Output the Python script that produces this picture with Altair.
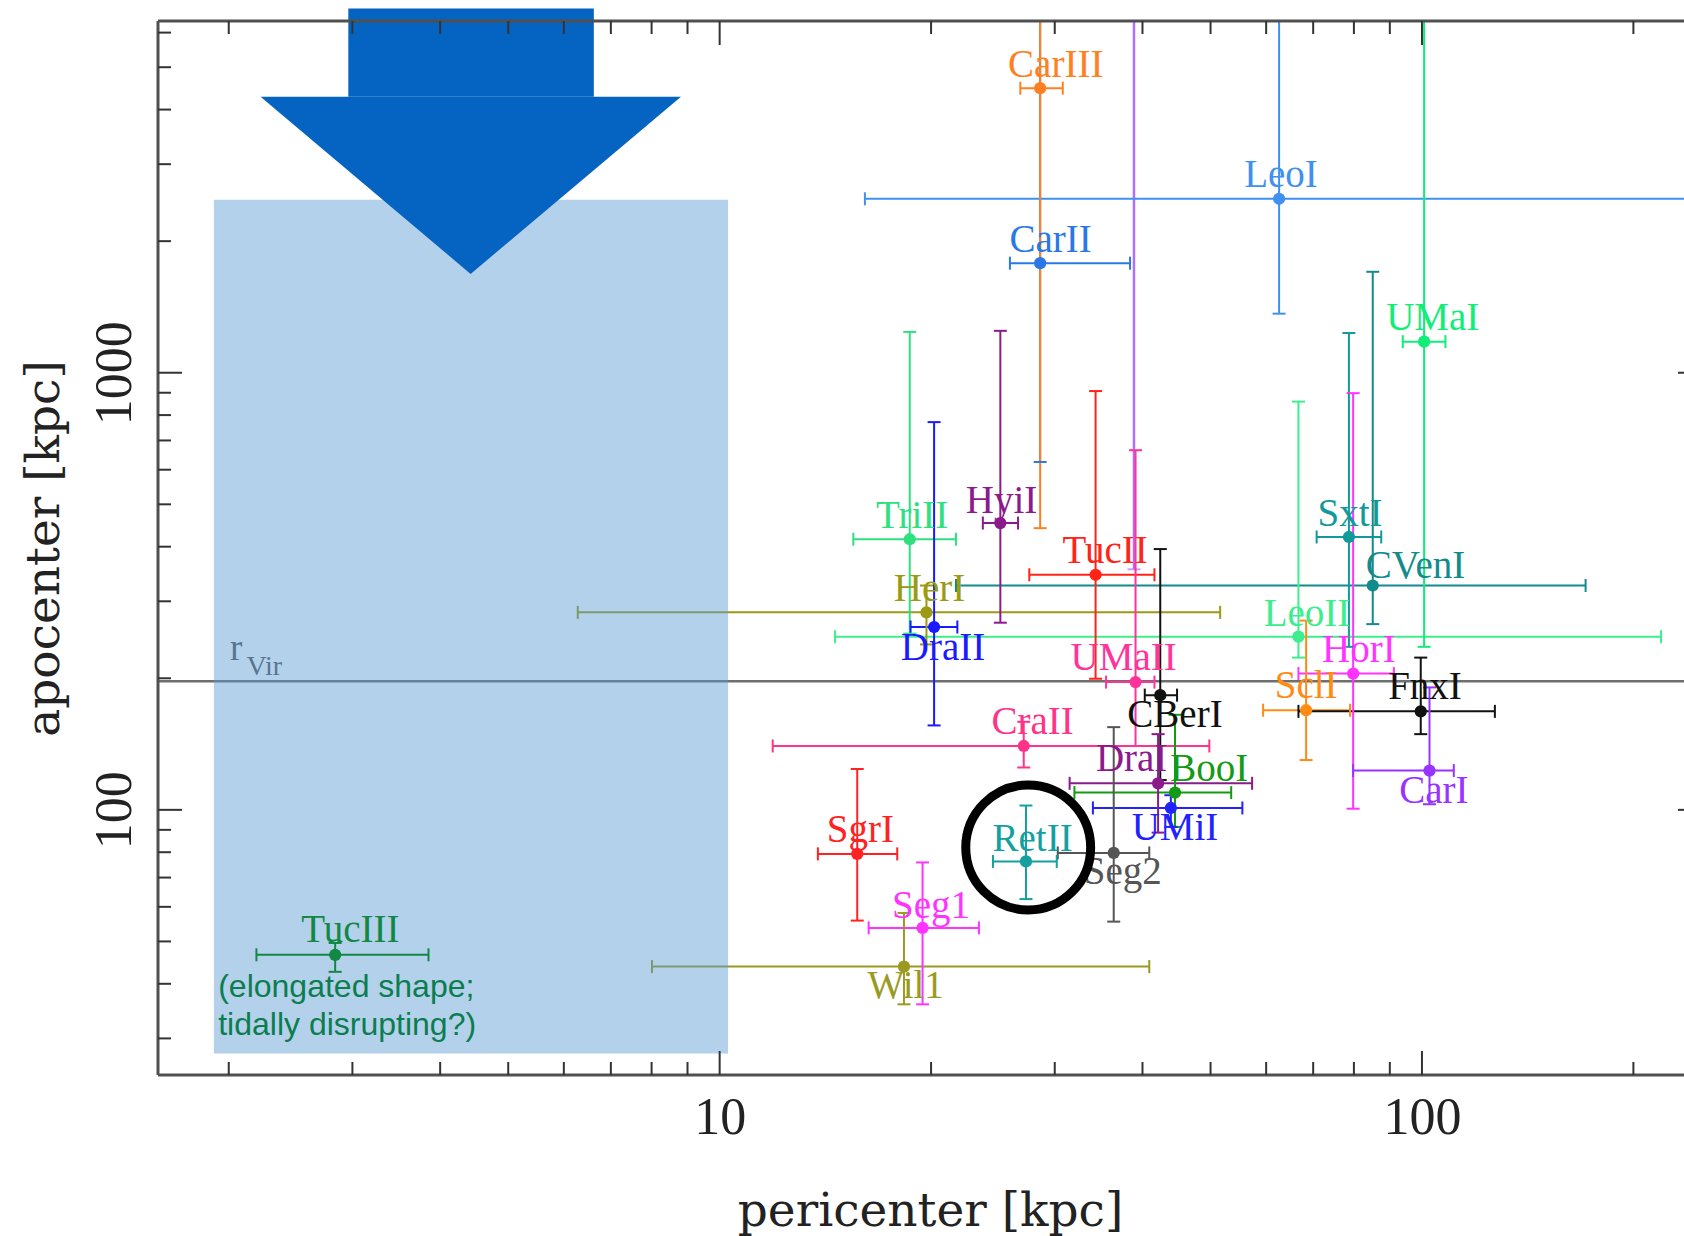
import altair as alt
import pandas as pd

# ---------------- data ----------------
names = ["CarII", "CarIII", "LeoI", "UMaI", "SxtI", "CVenI", "HyiI", "TriII", "TucII",
         "HerI", "DraII", "LeoII", "HorI", "UMaII", "CBerI", "SclI", "FnxI", "CarI",
         "CraII", "DraI", "BooI", "UMiI", "Seg2", "RetII", "SgrI", "Seg1", "Wil1", "TucIII"]
peri = [28.6, 28.6, 62.6, 100.7, 78.7, 85.1, 25.1, 18.65, 34.3,
        19.7, 20.2, 66.7, 79.8, 39.1, 42.4, 68.4, 99.6, 102.5,
        27.1, 42.1, 44.5, 43.9, 36.4, 27.3, 15.7, 19.45, 18.3, 2.835]
peri_lo = [25.9, 26.8, 16.1, 93.9, 70.8, 21.7, 23.7, 15.5, 27.6,
           6.28, 18.7, 14.6, 66.7, 35.5, 40.3, 59.4, 66.7, 79.8,
           11.9, 31.5, 32.0, 34.0, 30.3, 24.5, 13.8, 16.3, 8.01, 2.19]
peri_hi = [38.4, 30.8, 500, 108, 87.5, 171, 26.6, 21.7, 41.6,
           51.6, 21.8, 219, 91.2, 41.6, 44.8, 79.0, 127, 111,
           49.8, 57.3, 53.5, 55.5, 40.9, 30.2, 17.9, 23.4, 40.9, 3.85]
apo = [1781, 4478, 2500, 1178, 421, 326, 453, 416, 345,
       283, 262, 249, 205, 196, 183, 169, 168, 123,
       140, 115, 109.5, 101, 79.7, 76.2, 79.3, 53.7, 43.8, 46.6]
apo_lo = [625, 441, 1365, 236, 236, 266, 268, 253, 199.5,
          239, 156, 223, 100.6, 140, 117, 130, 149, 103,
          125, 88.7, 91.4, 91.4, 55.5, 62.5, 55.8, 35.9, 35.9, 42.6]
apo_hi = [10000, 10000, 10000, 10000, 1233, 1702, 1247, 1240, 908,
          326, 771, 859, 898, 665, 395, 271, 223, 190.6,
          159, 149, 165, 108, 154.6, 102.3, 124, 75.8, 58.1, 49.6]
colors = ["#2a78e8", "#ff8022", "#4090f0", "#11ee77", "#129a9a", "#138a8c", "#8b1a8b",
          "#2ee080", "#ff2418", "#9a9a14", "#1a1aff", "#3cee8c", "#ff33ff", "#ff3399",
          "#111111", "#ff8a14", "#111111", "#9933ff", "#ff3388", "#8b1a8b", "#149a14",
          "#2222ff", "#555555", "#14a0a0", "#ff2222", "#ff33ff", "#9a9a22", "#118844"]
label_peri = [29.6, 30.1, 63.0, 103.6, 79.0, 97.9, 25.2, 18.8, 35.4,
              19.9, 20.8, 68.6, 81.3, 37.6, 44.5, 68.4, 101, 104,
              27.9, 38.6, 49.8, 44.5, 37.5, 27.9, 15.86, 20.0, 18.4, 2.98]
label_apo = [2017, 5070, 2832, 1334, 476, 361, 510, 471, 391,
             320, 235, 280, 232, 222, 165, 192, 190.6, 110.7,
             159, 130.5, 124, 90.8, 72.0, 85.8, 89.8, 60.4, 39.5, 53.1]

# unlabelled violet error bar reaching the top
extra_peri = [38.9]
extra_lo = [355]
extra_hi = [10000]
extra_color = ["#b070ff"]

r_vir = [197]
rvir_r_pos = [2.05, 233]
rvir_sub_pos = [2.12, 212]

# annotations (data coordinates)
region_peri = [1.905, 10.28]
region_apo = [27.7, 2486]
shaft_peri = [2.96, 6.62]
shaft_apo = [4279, 6808]
head_peri = [2.22, 4.42, 8.81]
head_top = [4279, 4279, 4279]
head_bottom = [4279, 1683, 4279]
ring_pos = [27.5, 82.0]
note_pos = [1.932, 42.6]
note_text = "(elongated shape;\ntidally disrupting?)"

x_major = [10, 100]
x_minor = [2, 3, 4, 5, 6, 7, 8, 9, 20, 30, 40, 50, 60, 70, 80, 90, 200]
y_major = [100, 1000]
y_minor = [30, 40, 50, 60, 70, 80, 90, 200, 300, 400, 500, 600, 700, 800, 900,
           2000, 3000, 4000, 5000, 6000]

# ---------------- layout ----------------
W, H = 1526, 1054
xs = alt.Scale(type="log", domain=[1.586, 236.1], nice=False)
ys = alt.Scale(type="log", domain=[24.74, 6378], nice=False)
SERIF = "Liberation Serif"
TSERIF = "DejaVu Serif"

x_axis = alt.Axis(values=x_major, format="d", ticks=False, domain=False, grid=False,
                  labelFont=SERIF, labelFontSize=52, labelColor="#222", labelPadding=17,
                  title="pericenter [kpc]", titleFont=TSERIF, titleFontSize=47,
                  titleFontWeight="normal", titleColor="#222", titlePadding=45,
                  titleX=W / 2 + 9)
y_axis = alt.Axis(values=y_major, format="d", ticks=False, domain=False, grid=False,
                  labelFont=SERIF, labelFontSize=52, labelColor="#222", labelPadding=17,
                  labelAngle=270, labelAlign="center", labelBaseline="bottom",
                  title="apocenter [kpc]", titleFont=TSERIF, titleFontSize=47,
                  titleFontWeight="normal", titleColor="#222", titlePadding=20)


def X(f):
    return alt.X(f, scale=xs, axis=x_axis)


def Y(f):
    return alt.Y(f, scale=ys, axis=y_axis)


df = pd.DataFrame({"name": names, "peri": peri, "peri_lo": peri_lo, "peri_hi": peri_hi,
                   "apo": apo, "apo_lo": apo_lo, "apo_hi": apo_hi, "color": colors,
                   "lx": label_peri, "ly": label_apo})
df_main = df[df["name"] != "TucIII"]
df_top = df[df["name"] == "TucIII"]
col = alt.Color("color:N", scale=None)


def galaxy_layers(d):
    base = alt.Chart(d)
    xbar = base.mark_rule(strokeWidth=2, clip=True).encode(
        x=X("peri_lo:Q"), x2="peri_hi:Q", y=Y("apo:Q"), color=col)
    ybar = base.mark_rule(strokeWidth=2, clip=True).encode(
        x=X("peri:Q"), y=Y("apo_lo:Q"), y2="apo_hi:Q", color=col)
    xcap = base.transform_fold(["peri_lo", "peri_hi"], as_=["end", "xc"]).mark_tick(
        orient="vertical", size=13, thickness=2, clip=True, opacity=1).encode(
        x=X("xc:Q"), y=Y("apo:Q"), color=col)
    ycap = base.transform_fold(["apo_lo", "apo_hi"], as_=["end", "yc"]).mark_tick(
        orient="horizontal", size=13, thickness=2, clip=True, opacity=1).encode(
        x=X("peri:Q"), y=Y("yc:Q"), color=col)
    pts = base.mark_circle(size=150, opacity=1).encode(x=X("peri:Q"), y=Y("apo:Q"), color=col)
    lab = base.mark_text(font=SERIF, fontSize=39, align="center", baseline="middle").encode(
        x=X("lx:Q"), y=Y("ly:Q"), text="name:N", color=col)
    return [xbar, ybar, xcap, ycap, pts, lab]


extra = alt.Chart(pd.DataFrame({"x": extra_peri, "lo": extra_lo, "hi": extra_hi,
                                "color": extra_color}))
extra_bar = extra.mark_rule(strokeWidth=2.5, clip=True).encode(
    x=X("x:Q"), y=Y("lo:Q"), y2="hi:Q", color=col)
extra_cap = extra.mark_tick(orient="horizontal", size=13, thickness=2).encode(
    x=X("x:Q"), y=Y("lo:Q"), color=col)

vir = alt.Chart(pd.DataFrame({"v": r_vir}))
vir_rule = vir.mark_rule(color="#6f6f6f", strokeWidth=2.5).encode(
    y=Y("v:Q"), x=alt.value(0), x2=alt.value(W))
vir_r = alt.Chart(pd.DataFrame({"x": [rvir_r_pos[0]], "y": [rvir_r_pos[1]], "t": ["r"]})).mark_text(
    font=SERIF, fontSize=37, color="#555555", align="center", baseline="middle").encode(
    x=X("x:Q"), y=Y("y:Q"), text="t:N")
vir_sub = alt.Chart(pd.DataFrame({"x": [rvir_sub_pos[0]], "y": [rvir_sub_pos[1]], "t": ["Vir"]})).mark_text(
    font=SERIF, fontSize=28, color="#555555", align="left", baseline="middle").encode(
    x=X("x:Q"), y=Y("y:Q"), text="t:N")

region = alt.Chart(pd.DataFrame({"x": [region_peri[0]], "x2": [region_peri[1]],
                                 "y": [region_apo[0]], "y2": [region_apo[1]]})).mark_rect(
    color="#5b9bd5", opacity=0.46).encode(x=X("x:Q"), x2="x2:Q", y=Y("y:Q"), y2="y2:Q")

ARROW = "#0563c1"
shaft = alt.Chart(pd.DataFrame({"x": [shaft_peri[0]], "x2": [shaft_peri[1]],
                                "y": [shaft_apo[0]], "y2": [shaft_apo[1]]})).mark_rect(
    color=ARROW, opacity=1, clip=False).encode(x=X("x:Q"), x2="x2:Q", y=Y("y:Q"), y2="y2:Q")
head = alt.Chart(pd.DataFrame({"x": head_peri, "top": head_top, "bot": head_bottom})).mark_area(
    color=ARROW, opacity=1, clip=False, interpolate="linear").encode(
    x=X("x:Q"), y=Y("top:Q"), y2="bot:Q")

ring = alt.Chart(pd.DataFrame({"x": [ring_pos[0]], "y": [ring_pos[1]]})).mark_point(
    shape="circle", filled=False, size=15600, strokeWidth=9, color="black", opacity=1).encode(
    x=X("x:Q"), y=Y("y:Q"))

note = alt.Chart(pd.DataFrame({"x": [note_pos[0]], "y": [note_pos[1]], "t": [note_text]})).mark_text(
    font="Liberation Sans", fontSize=32, color="#0b7d4e", align="left", baseline="top",
    lineBreak="\n", lineHeight=38).encode(x=X("x:Q"), y=Y("y:Q"), text="t:N")

# frame and inward ticks
FRAME = "#505050"
one = alt.Chart(pd.DataFrame({"k": [0]}))
frame_left = one.mark_rule(color=FRAME, strokeWidth=3).encode(
    x=alt.value(0), y=alt.value(0), y2=alt.value(H))
frame_bottom = one.mark_rule(color=FRAME, strokeWidth=3).encode(
    x=alt.value(0), x2=alt.value(W), y=alt.value(H))
frame_top = one.mark_rule(color=FRAME, strokeWidth=3).encode(
    x=alt.value(0), x2=alt.value(W), y=alt.value(0))

TK = "#333333"
xmaj = alt.Chart(pd.DataFrame({"v": x_major}))
xmin = alt.Chart(pd.DataFrame({"v": x_minor}))
ymaj = alt.Chart(pd.DataFrame({"v": y_major}))
ymin = alt.Chart(pd.DataFrame({"v": y_minor}))
ticks = [
    xmaj.mark_rule(color=TK, strokeWidth=2).encode(x=X("v:Q"), y=alt.value(H), y2=alt.value(H - 24)),
    xmaj.mark_rule(color=TK, strokeWidth=2).encode(x=X("v:Q"), y=alt.value(0), y2=alt.value(24)),
    xmin.mark_rule(color=TK, strokeWidth=2).encode(x=X("v:Q"), y=alt.value(H), y2=alt.value(H - 13)),
    xmin.mark_rule(color=TK, strokeWidth=2).encode(x=X("v:Q"), y=alt.value(0), y2=alt.value(13)),
    ymaj.mark_rule(color=TK, strokeWidth=2).encode(y=Y("v:Q"), x=alt.value(0), x2=alt.value(24)),
    ymaj.mark_rule(color=TK, strokeWidth=2).encode(y=Y("v:Q"), x=alt.value(W), x2=alt.value(W - 6)),
    ymin.mark_rule(color=TK, strokeWidth=2).encode(y=Y("v:Q"), x=alt.value(0), x2=alt.value(13)),
]

layers = ([vir_rule, vir_r, vir_sub, extra_bar, extra_cap] + galaxy_layers(df_main)
          + [region] + galaxy_layers(df_top)
          + [note, ring, shaft, head, frame_left, frame_bottom, frame_top] + ticks)

chart = alt.layer(*layers).properties(
    width=W, height=H,
    autosize=alt.AutoSizeParams(type="none"),
    padding={"left": 158, "top": 21, "right": 0, "bottom": 161},
    background="white",
).configure_view(strokeWidth=0)

chart.save("out.html", embed_options={"renderer": "svg", "actions": False})
